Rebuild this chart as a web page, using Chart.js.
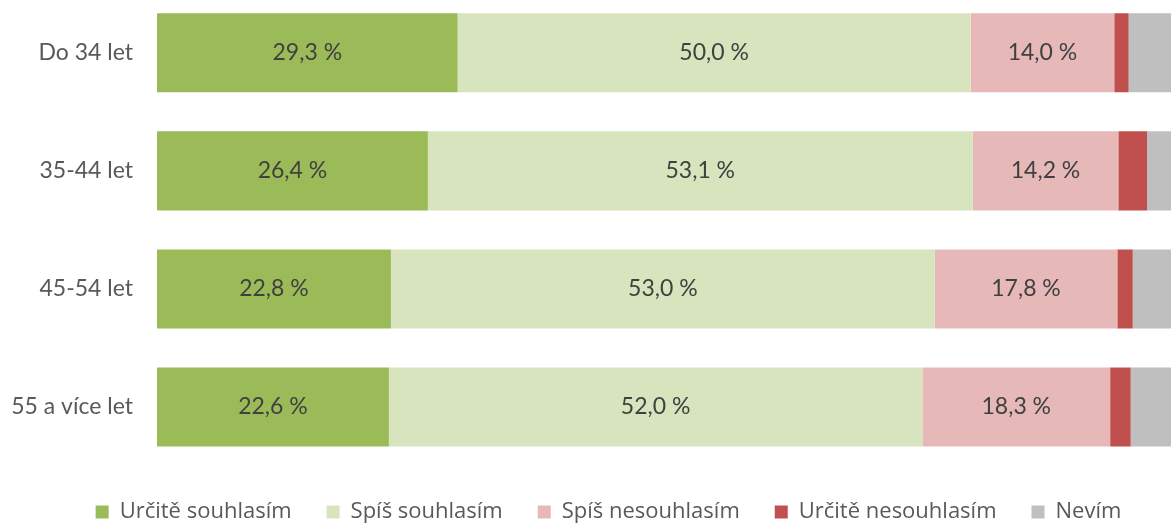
<!DOCTYPE html>
<html>
<head>
<meta charset="utf-8">
<script src="https://cdn.jsdelivr.net/npm/chart.js@4/dist/chart.umd.min.js"></script>
<style>
  html, body { margin: 0; padding: 0; background: #fff; overflow: hidden; width: 1171px; height: 524px; }
  #wrap { position: absolute; left: 0; top: -44px; width: 1183px; height: 577px; }
</style>
</head>
<body>
<div id="wrap"><canvas id="c"></canvas></div>
<script>
const categories = ["Do 34 let", "35-44 let", "45-54 let", "55 a více let"];
const seriesNames = ["Určitě souhlasím", "Spíš souhlasím", "Spíš nesouhlasím", "Určitě nesouhlasím", "Nevím"];
const urciteSouhlasim = [29.3, 26.4, 22.8, 22.6];
const spisSouhlasim = [50.0, 53.1, 53.0, 52.0];
const spisNesouhlasim = [14.0, 14.2, 17.8, 18.3];
const urciteNesouhlasim = [1.4, 2.8, 1.5, 2.0];
const nevim = [5.3, 3.5, 4.9, 5.1];
const colors = ["#9BBB59", "#D7E4BD", "#E6B9B8", "#C0504D", "#BFBFBF"];
const labelledSeries = [0, 1, 2];

const FONT = "Lato, 'Open Sans', sans-serif";
const LEGEND_FONT = "'Open Sans', Lato, sans-serif";

const valueLabels = {
  id: 'valueLabels',
  afterDatasetsDraw(chart) {
    const ctx = chart.ctx;
    ctx.save();
    ctx.font = "23px " + FONT;
    ctx.fillStyle = "#404040";
    ctx.textAlign = "center";
    ctx.textBaseline = "middle";
    labelledSeries.forEach(di => {
      const meta = chart.getDatasetMeta(di);
      meta.data.forEach((bar, i) => {
        const v = chart.data.datasets[di].data[i];
        const p = bar.getProps(['x', 'base', 'y'], true);
        const cx = (p.x + p.base) / 2;
        ctx.fillText(v.toFixed(1).replace('.', ',') + " %", cx, p.y);
      });
    });
    ctx.restore();
  }
};

// the original legend is centred on the full (partly cropped) chart width
const legendShift = {
  id: 'legendShift',
  afterLayout(chart) {
    if (chart.legend) { chart.legend.left += 17; chart.legend.right += 17; }
  }
};

const allSeries = [urciteSouhlasim, spisSouhlasim, spisNesouhlasim, urciteNesouhlasim, nevim];

new Chart(document.getElementById('c'), {
  type: 'bar',
  data: {
    labels: categories,
    datasets: allSeries.map((d, i) => ({
      label: seriesNames[i],
      data: d,
      backgroundColor: colors[i],
      borderWidth: 0,
      barPercentage: 0.67,
      categoryPercentage: 1.0
    }))
  },
  options: {
    indexAxis: 'y',
    responsive: true,
    maintainAspectRatio: false,
    animation: false,
    layout: { padding: { left: 0, right: 0, top: 0, bottom: 0 } },
    scales: {
      x: {
        stacked: true, min: 0, max: 100, display: false,
        grid: { display: false }
      },
      y: {
        stacked: true,
        grid: { display: false, drawTicks: false, tickLength: 0 },
        border: { display: false },
        ticks: { color: "#595959", font: { family: FONT, size: 23 }, padding: 24 },
        afterFit(axis) { axis.width = 157; }
      }
    },
    plugins: {
      legend: {
        position: 'bottom',
        labels: {
          boxWidth: 13, boxHeight: 13, padding: 35,
          color: "#595959",
          font: { family: LEGEND_FONT, size: 22 }
        }
      },
      tooltip: { enabled: false }
    }
  },
  plugins: [valueLabels, legendShift]
});
</script>
</body>
</html>
